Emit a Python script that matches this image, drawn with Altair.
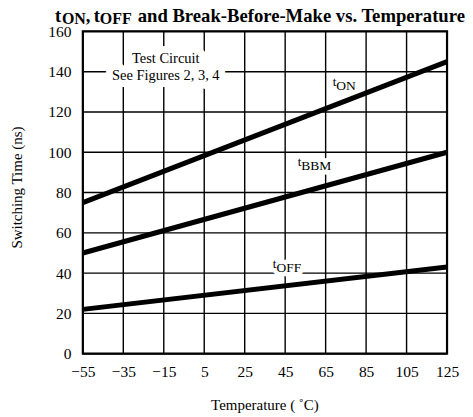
import altair as alt
import pandas as pd

# ---- data ----
temps = [-55, 125]
t_on = [75, 145]
t_bbm = [50, 100]
t_off = [22, 43]

x_ticks = [-55, -35, -15, 5, 25, 45, 65, 85, 105, 125]
y_ticks = [0, 20, 40, 60, 80, 100, 120, 140, 160]

series_names = ["tON", "tBBM", "tOFF"]
label_main = ["t", "t", "t"]
label_sub = ["ON", "BBM", "OFF"]
label_temp = [70.3, 53.0, 40.7]
label_val = [130.8, 91.1, 40.6]

note_lines = ["Test Circuit", "See Figures 2, 3, 4"]
note_temp = [-14.0, -14.0]
note_val = [144.3, 135.9]

FONT = "Liberation Serif"

rows = []
for name, vals in zip(series_names, [t_on, t_bbm, t_off]):
    for t, v in zip(temps, vals):
        rows.append({"series": name, "temp": t, "val": v})
df = pd.DataFrame(rows)

lab = pd.DataFrame({"main": label_main, "sub": label_sub,
                    "temp": label_temp, "val": label_val})
note = pd.DataFrame({"text": note_lines, "temp": note_temp, "val": note_val})
gx = pd.DataFrame({"temp": x_ticks})
gy = pd.DataFrame({"val": y_ticks})

xs = alt.Scale(domain=[-55, 125], nice=False, zero=False)
ys = alt.Scale(domain=[0, 160], nice=False)

xaxis = alt.Axis(values=x_ticks, title="Temperature ( ˚C)", grid=False,
                 domain=False, ticks=False, labelFont=FONT, labelFontSize=15.5,
                 labelColor="black", labelPadding=11, labelFlush=False,
                 titleFont=FONT, titleFontSize=15, titleFontWeight="normal",
                 titleColor="black", titleX=182, titleY=56,
                 titleBaseline="alphabetic", titleAlign="center")
yaxis = alt.Axis(values=y_ticks, title="Switching Time (ns)", grid=False,
                 domain=False, ticks=False, labelFont=FONT, labelFontSize=15.5,
                 labelColor="black", labelPadding=12, labelFlush=False,
                 titleFont=FONT, titleFontSize=15, titleFontWeight="normal",
                 titleColor="black", titleX=-66, titleY=156, titleAngle=-90,
                 titleBaseline="middle", titleAlign="center")

X = alt.X("temp:Q", scale=xs, axis=xaxis)
Y = alt.Y("val:Q", scale=ys, axis=yaxis)

grid_x = alt.Chart(gx).mark_rule(color="black", strokeWidth=1.4).encode(x=X)
grid_y = alt.Chart(gy).mark_rule(color="black", strokeWidth=1.4).encode(y=Y)

lines = alt.Chart(df).mark_line(color="black", strokeWidth=5, strokeCap="butt").encode(
    x=X, y=Y, detail="series:N",
)


def label_layers(halo):
    extra = {"stroke": "white", "strokeWidth": 9, "strokeJoin": "round"} if halo else {}
    t = alt.Chart(lab).mark_text(font=FONT, fontSize=13, color="black",
                                 align="right", baseline="alphabetic", dy=-4,
                                 **extra).encode(x=X, y=Y, text="main:N")
    s = alt.Chart(lab).mark_text(font=FONT, fontSize=13.5, color="black",
                                 align="left", baseline="alphabetic",
                                 **extra).encode(x=X, y=Y, text="sub:N")
    return [t, s]


def note_layer(halo):
    extra = {"stroke": "white", "strokeWidth": 14, "strokeJoin": "round"} if halo else {}
    return alt.Chart(note).mark_text(font=FONT, fontSize=14.5, color="black",
                                     align="center", baseline="alphabetic",
                                     **extra).encode(x=X, y=Y, text="text:N")


one = pd.DataFrame({"k": [0]})


def piece(txt, x, y, size):
    return alt.Chart(one).mark_text(font=FONT, fontSize=size, fontWeight="bold",
                                    color="black", align="left",
                                    baseline="alphabetic").encode(
        x=alt.value(x), y=alt.value(y), text=alt.value(txt))


title_parts = [
    piece("t", -28, -9, 18.5),
    piece("ON", -21, -7, 16),
    piece(",", 3, -9, 18.5),
    piece("t", 11, -9, 18.5),
    piece("OFF", 17, -7, 16),
    piece("and Break-Before-Make vs. Temperature", 55, -9, 18.7),
]

chart = alt.layer(
    grid_x, grid_y,
    note_layer(True), *label_layers(True),
    lines,
    note_layer(False), *label_layers(False),
    *title_parts,
).properties(
    width=365, height=323,
    padding={"left": 75, "top": 23, "right": 18, "bottom": 60},
    autosize=alt.AutoSizeParams(type="none"),
).configure_view(stroke="black", strokeWidth=2.2)

chart.save("out.html", embed_options={"renderer": "svg", "actions": False})
